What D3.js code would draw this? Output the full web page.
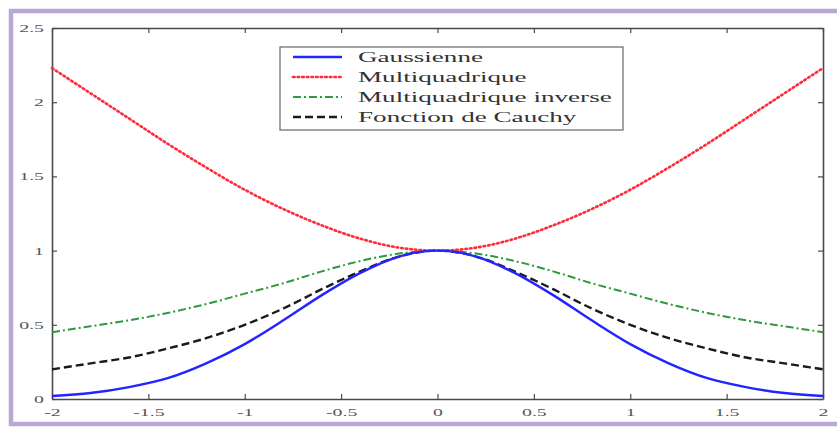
<!DOCTYPE html>
<html>
<head>
<meta charset="utf-8">
<script src="https://cdn.jsdelivr.net/npm/d3@7"></script>
<style>
  body { margin: 0; background: #fff; }
  svg { display: block; }
</style>
</head>
<body>
<div id="chart"></div>
<script>
// values, x from -2 to 2 in steps of 0.2
const xValues = [-2, -1.8, -1.6, -1.4, -1.2, -1, -0.8, -0.6, -0.4, -0.2, 0,
                 0.2, 0.4, 0.6, 0.8, 1, 1.2, 1.4, 1.6, 1.8, 2];
const gaussienne = [0.02, 0.04, 0.08, 0.14, 0.24, 0.37, 0.53, 0.70, 0.85, 0.96, 1,
                    0.96, 0.85, 0.70, 0.53, 0.37, 0.24, 0.14, 0.08, 0.04, 0.02];
const multiquadrique = [2.23, 2.06, 1.89, 1.72, 1.56, 1.41, 1.28, 1.17, 1.08, 1.02, 1,
                        1.02, 1.08, 1.17, 1.28, 1.41, 1.56, 1.72, 1.89, 2.06, 2.23];
const multiquadriqueInverse = [0.45, 0.49, 0.53, 0.58, 0.64, 0.71, 0.78, 0.86, 0.93, 0.98, 1,
                               0.98, 0.93, 0.86, 0.78, 0.71, 0.64, 0.58, 0.53, 0.49, 0.45];
const cauchy = [0.20, 0.24, 0.28, 0.34, 0.41, 0.50, 0.61, 0.74, 0.86, 0.96, 1,
                0.96, 0.86, 0.74, 0.61, 0.50, 0.41, 0.34, 0.28, 0.24, 0.20];
const seriesNames = ["Gaussienne", "Multiquadrique", "Multiquadrique inverse", "Fonction de Cauchy"];
const xTicks = [-2, -1.5, -1, -0.5, 0, 0.5, 1, 1.5, 2];
const yTicks = [0, 0.5, 1, 1.5, 2, 2.5];

const width = 837;
const height = 428;
const marginLeft = 52;
const marginRight = 14;
const marginTop = 28;
const marginBottom = 29;
const stretch = 1.8; // the picture is squeezed wide, text too

const series = [
    { name: seriesNames[0], values: gaussienne, color: "#2424ff", dash: null, w: 2.4 },
    { name: seriesNames[1], values: multiquadrique, color: "#ff2a3a", dash: "1.6,3", w: 2.6 },
    { name: seriesNames[2], values: multiquadriqueInverse, color: "#2e9a3a", dash: "8,3,2,3", w: 2 },
    { name: seriesNames[3], values: cauchy, color: "#1a1a1a", dash: "8,4", w: 2.4 }
];

const svg = d3.select("#chart")
              .append("svg")
              .attr("width", width)
              .attr("height", height);

// purple frame around the figure
svg.append("rect")
   .attr("x", 11)
   .attr("y", 11)
   .attr("width", 900)
   .attr("height", 413)
   .attr("fill", "none")
   .attr("stroke", "#b7a8d4")
   .attr("stroke-width", 4.5);

const xScale = d3.scaleLinear()
                 .domain([-2, 2])
                 .range([marginLeft, width - marginRight]);
const yScale = d3.scaleLinear()
                 .domain([0, 2.5])
                 .range([height - marginBottom, marginTop]);

const axisColor = "#4a4a4a";
const plainNumber = d => String(d);
const styleAxis = (g) => {
    g.select(".domain").attr("stroke", axisColor).attr("stroke-width", 1.6);
    g.selectAll(".tick line").attr("stroke", axisColor).attr("stroke-width", 1.2);
    g.selectAll("text")
     .attr("fill", "#555")
     .style("font-family", "'Liberation Serif', 'DejaVu Serif', serif")
     .style("font-size", "11px");
};

// bottom axis with labels
const xAxis = svg.append("g")
   .attr("transform", `translate(0, ${height - marginBottom})`)
   .call(d3.axisBottom(xScale).tickValues(xTicks).tickSizeInner(-5).tickSizeOuter(0)
           .tickPadding(9).tickFormat(plainNumber))
   .call(styleAxis);
xAxis.selectAll("text").attr("transform", `scale(${stretch},1)`);

// left axis with labels
const yAxis = svg.append("g")
   .attr("transform", `translate(${marginLeft}, 0)`)
   .call(d3.axisLeft(yScale).tickValues(yTicks).tickSizeInner(-5).tickSizeOuter(0)
           .tickPadding(8).tickFormat(plainNumber))
   .call(styleAxis);
yAxis.selectAll("text")
     .attr("x", -8 / stretch)
     .attr("transform", `scale(${stretch},1)`);

// top and right box lines
svg.append("g")
   .attr("transform", `translate(0, ${marginTop})`)
   .call(d3.axisTop(xScale).tickValues(xTicks).tickSizeInner(-5).tickSizeOuter(0).tickFormat(""))
   .call(styleAxis);
svg.append("g")
   .attr("transform", `translate(${width - marginRight}, 0)`)
   .call(d3.axisRight(yScale).tickValues(yTicks).tickSizeInner(-5).tickSizeOuter(0).tickFormat(""))
   .call(styleAxis);

// curves
const line = d3.line()
               .x((d, i) => xScale(xValues[i]))
               .y(d => yScale(d))
               .curve(d3.curveMonotoneX);

svg.selectAll(".curve")
   .data(series.slice().reverse())
   .enter()
   .append("path")
   .attr("class", "curve")
   .attr("d", d => line(d.values))
   .attr("fill", "none")
   .attr("stroke", d => d.color)
   .attr("stroke-width", d => d.w)
   .attr("stroke-dasharray", d => d.dash)
   .attr("stroke-linecap", d => d.dash === "1.6,3" ? "round" : "butt");

// legend
const legend = svg.append("g").attr("transform", "translate(280, 47)");
legend.append("rect")
      .attr("width", 343)
      .attr("height", 83)
      .attr("fill", "#fff")
      .attr("stroke", "#666")
      .attr("stroke-width", 1.2);

const rows = legend.selectAll(".row")
                   .data(series)
                   .enter()
                   .append("g")
                   .attr("class", "row")
                   .attr("transform", (d, i) => `translate(0, ${10 + i * 20})`);

rows.append("line")
    .attr("x1", 13)
    .attr("x2", 62)
    .attr("stroke", d => d.color)
    .attr("stroke-width", d => d.w)
    .attr("stroke-dasharray", d => d.dash)
    .attr("stroke-linecap", d => d.dash === "1.6,3" ? "round" : "butt");

rows.append("text")
    .attr("transform", `translate(78, 5) scale(1.75,1)`)
    .attr("fill", "#333")
    .style("font-family", "'Liberation Serif', 'DejaVu Serif', serif")
    .style("font-size", "15.5px")
    .text(d => d.name);
</script>
</body>
</html>
